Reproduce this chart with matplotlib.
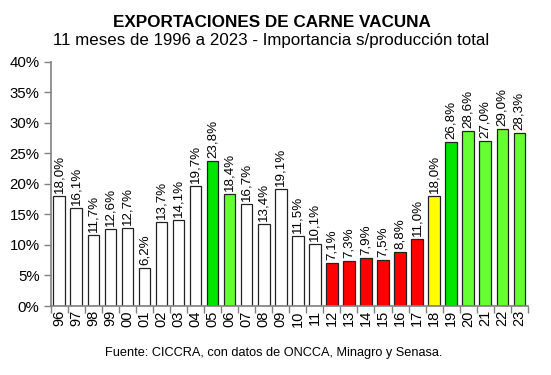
import numpy as np
import matplotlib.pyplot as plt

plt.rcParams['font.family'] = ['Liberation Sans', 'DejaVu Sans']

years = ['96', '97', '98', '99', '00', '01', '02', '03', '04', '05',
         '06', '07', '08', '09', '10', '11', '12', '13', '14', '15',
         '16', '17', '18', '19', '20', '21', '22', '23']
values = [18.0, 16.1, 11.7, 12.6, 12.7, 6.2, 13.7, 14.1, 19.7, 23.8,
          18.4, 16.7, 13.4, 19.1, 11.5, 10.1, 7.1, 7.3, 7.9, 7.5,
          8.8, 11.0, 18.0, 26.8, 28.6, 27.0, 29.0, 28.3]
colors = ['white'] * 9 + ['#00e600', '#66ff33'] + ['white'] * 5 + \
         ['#ff0000'] * 6 + ['#ffff00', '#00e600'] + ['#66ff33'] * 4

fig = plt.figure(figsize=(5.51, 3.75), dpi=100)
ax = fig.add_axes([0.092, 0.184, 0.866, 0.651])

x = np.arange(len(years))
ax.bar(x, values, width=0.68, color=colors, edgecolor='#222222', linewidth=0.9, zorder=2)
for xi, v in zip(x, values):
    ax.text(xi, v + 0.5, f'{v:.1f}%'.replace('.', ','), rotation=90,
            ha='center', va='bottom', fontsize=9.6)

ax.set_xlim(-0.5, len(years) - 0.5)
ax.set_ylim(0, 40)
ax.set_yticks(range(0, 41, 5))
ax.set_yticklabels([f'{t}%' for t in range(0, 41, 5)], fontsize=10.8)
ax.set_xticks(x)
ax.set_xticklabels(years, rotation=90, fontsize=10.5)
ax.set_xticks(np.arange(-0.5, len(years)), minor=True)
ax.tick_params(axis='x', which='major', length=0, pad=3)
ax.tick_params(axis='x', which='minor', length=5, color='#808080', width=1)
ax.tick_params(axis='y', length=5, color='#808080', width=1, pad=3)

for s in ['top', 'right']:
    ax.spines[s].set_visible(False)
for s in ['left', 'bottom']:
    ax.spines[s].set_color('#808080')
    ax.spines[s].set_linewidth(1.2)

fig.text(0.494, 0.941, 'EXPORTACIONES DE CARNE VACUNA', ha='center', va='center',
         fontsize=12.3, fontweight='bold')
fig.text(0.492, 0.893, '11 meses de 1996 a 2023 - Importancia s/producción total',
         ha='center', va='center', fontsize=12.2)
fig.text(0.496, 0.058, 'Fuente: CICCRA, con datos de ONCCA, Minagro y Senasa.',
         ha='center', va='center', fontsize=9.2)

fig.savefig('out.png', dpi=100)
